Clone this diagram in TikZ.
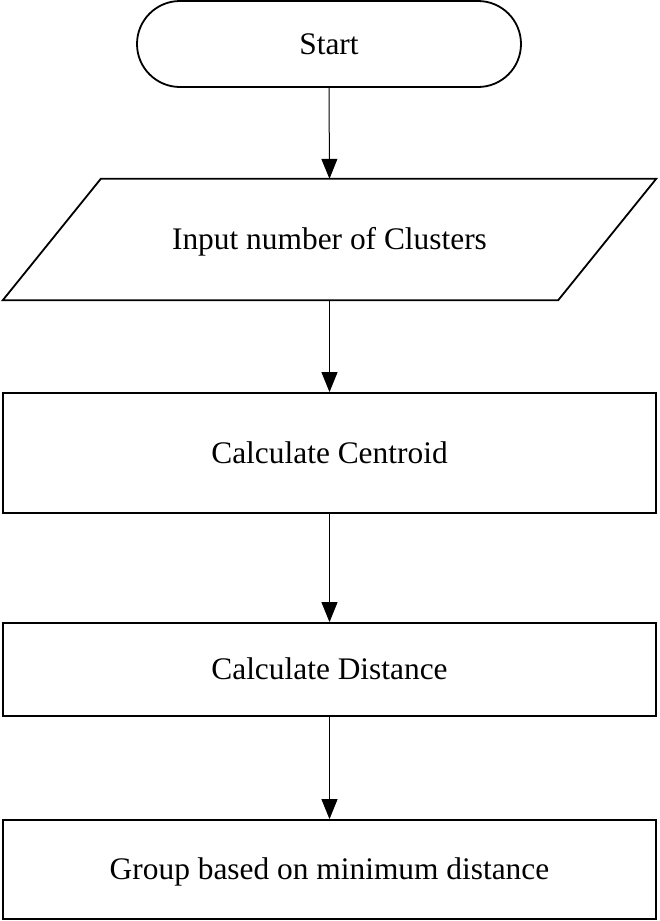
\documentclass[tikz,border=0pt]{standalone}
\usepackage{fontspec}
\setmainfont{Liberation Serif}
\usetikzlibrary{arrows.meta}
\begin{document}
\begin{tikzpicture}[x=1pt,y=-1pt,
  txt/.style={font=\fontsize{31.4}{36}\selectfont, inner sep=0pt, text height=20.7pt, text depth=0pt},
  box/.style={txt, draw, line width=1.8pt, minimum width=653pt},
  outline/.style={line width=1.8pt, line join=miter},
  flow/.style={-{Triangle[length=20pt,width=16pt]}, line width=1pt}]
\useasboundingbox (0,0) rectangle (659,921);
\node[box, rounded corners=43pt, minimum width=384pt, minimum height=86pt] (start) at (329,44) {Start};
\node[txt, minimum width=653pt, minimum height=121pt] (input) at (329.5,239.5) {Input number of Clusters};
\draw[outline] ([xshift=98pt]input.north west) -- (input.north east)
  -- ([xshift=-98pt]input.south east) -- (input.south west) -- cycle;
\node[box, minimum height=120pt] (centroid) at (329.5,453) {Calculate Centroid};
\node[box, minimum height=93pt] (distance) at (329.5,669.5) {Calculate Distance};
\node[box, minimum height=99pt] (group) at (329.5,869.5) {Group based on minimum distance};
\draw[flow] (start.south) -- (input.north);
\draw[flow] (input.south) -- (centroid.north);
\draw[flow] (centroid.south) -- (distance.north);
\draw[flow] (distance.south) -- (group.north);
\end{tikzpicture}
\end{document}
